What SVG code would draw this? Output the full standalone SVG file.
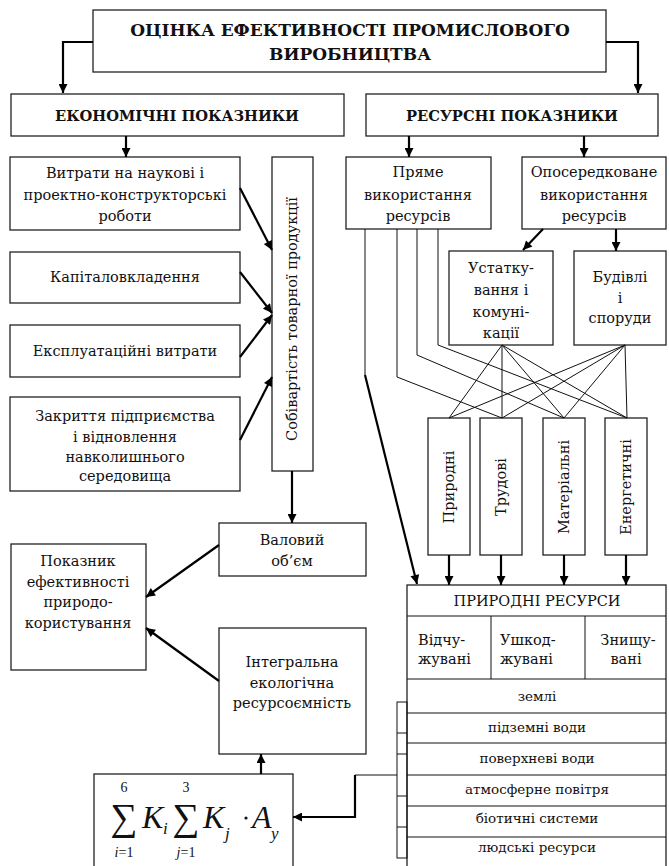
<svg xmlns="http://www.w3.org/2000/svg" width="669" height="866" viewBox="0 0 669 866">
<style>
.box{fill:#fff;stroke:#222;stroke-width:1.3}
.t{font-family:'DejaVu Serif','Liberation Serif',serif;font-size:14.5px;fill:#111;text-anchor:middle}
.b{font-weight:bold;font-size:14.7px}
.h{font-weight:bold;font-size:17px}
.s{font-size:13.5px}
.st{text-anchor:start}
.f{font-family:'Liberation Serif',serif}
.n{font-size:14px}
.sig{font-size:38px}
.big{font-size:32px;font-style:italic}
.sub{font-size:17px;font-style:italic}
.thick{fill:none;stroke:#000;stroke-width:2.2}
.thin{fill:none;stroke:#111;stroke-width:1}
.it{font-style:italic}
</style>
<defs>
<marker id="ah" viewBox="0 0 10 10" refX="10" refY="5" markerWidth="10" markerHeight="9" markerUnits="userSpaceOnUse" orient="auto"><path d="M0,0 L10,5 L0,10 z" fill="#000"/></marker>
</defs>
<rect width="669" height="866" fill="#fff"/>

<g id="top"><rect class="box" x="93" y="10" width="513" height="62"/>
<text class="t h" x="350" y="36">ОЦІНКА ЕФЕКТИВНОСТІ ПРОМИСЛОВОГО</text>
<text class="t h" x="350" y="60">ВИРОБНИЦТВА</text></g>

<g id="econ"><rect class="box" x="11" y="94" width="333" height="42"/>
<text class="t b" x="177" y="121">ЕКОНОМІЧНІ ПОКАЗНИКИ</text></g>
<g id="res"><rect class="box" x="366" y="94" width="292" height="42"/>
<text class="t b" x="512" y="121">РЕСУРСНІ ПОКАЗНИКИ</text></g>

<g id="vytraty"><rect class="box" x="10" y="157" width="230" height="73"/>
<text class="t" x="125" y="178">Витрати на наукові і</text>
<text class="t" x="125" y="200">проектно-конструкторські</text>
<text class="t" x="125" y="221">роботи</text></g>
<g id="kapital"><rect class="box" x="10" y="252" width="230" height="51"/>
<text class="t" x="125" y="282">Капіталовкладення</text></g>
<g id="ekspl"><rect class="box" x="10" y="325" width="230" height="52"/>
<text class="t" x="125" y="356">Експлуатаційні витрати</text></g>
<g id="zakryttia"><rect class="box" x="10" y="397" width="230" height="94"/>
<text class="t" x="125" y="421">Закриття підприємства</text>
<text class="t" x="125" y="442">і відновлення</text>
<text class="t" x="125" y="462">навколишнього</text>
<text class="t" x="125" y="481">середовища</text></g>
<g id="sobivartist"><rect class="box" x="272" y="157" width="41" height="314"/>
<text class="t" transform="translate(297,319) rotate(-90)">Собівартість товарної продукції</text></g>

<g id="valovyi"><rect class="box" x="219" y="523" width="147" height="53"/>
<text class="t" x="292" y="545">Валовий</text>
<text class="t" x="292" y="566">об’єм</text></g>
<g id="pokaznyk"><rect class="box" x="11" y="544" width="135" height="126"/>
<text class="t" x="78" y="566">Показник</text>
<text class="t" x="78" y="587">ефективності</text>
<text class="t" x="78" y="607">природо-</text>
<text class="t" x="78" y="628">користування</text></g>
<g id="intehralna"><rect class="box" x="219" y="628" width="147" height="126"/>
<text class="t" x="292" y="667">Інтегральна</text>
<text class="t" x="292" y="688">екологічна</text>
<text class="t" x="292" y="708">ресурсоємність</text></g>
<g id="formula"><rect class="box" x="94" y="774" width="199" height="100"/>
<text class="t f sig" x="124" y="830">∑</text>
<text class="t f n" x="124" y="792">6</text>
<text class="t f n" x="124" y="857"><tspan class="it">i</tspan>=1</text>
<text class="t f big st" x="142" y="828">K</text>
<text class="t f sub st" x="163" y="834">i</text>
<text class="t f sig" x="186" y="830">∑</text>
<text class="t f n" x="186" y="792">3</text>
<text class="t f n" x="186" y="857"><tspan class="it">j</tspan>=1</text>
<text class="t f big st" x="203" y="828">K</text>
<text class="t f sub st" x="225" y="839">j</text>
<circle cx="246" cy="818" r="1.6" fill="#111"/>
<text class="t f big st" x="252" y="828">A</text>
<text class="t f sub st" x="271" y="839">y</text></g>

<g id="priame"><rect class="box" x="346" y="157" width="145" height="72"/>
<text class="t" x="418" y="177">Пряме</text>
<text class="t" x="418" y="200">використання</text>
<text class="t" x="418" y="221">ресурсів</text></g>
<g id="oposeredkovane"><rect class="box" x="522" y="157" width="144" height="72"/>
<text class="t" x="594" y="177">Опосередковане</text>
<text class="t" x="594" y="200">використання</text>
<text class="t" x="594" y="221">ресурсів</text></g>
<g id="ustatkuvannia"><rect class="box" x="449" y="251" width="104" height="94"/>
<text class="t" x="501" y="273">Устатку-</text>
<text class="t" x="501" y="295">вання  і</text>
<text class="t" x="501" y="317">комуні-</text>
<text class="t" x="501" y="338">кації</text></g>
<g id="budivli"><rect class="box" x="574" y="251" width="92" height="94"/>
<text class="t" x="620" y="282">Будівлі</text>
<text class="t" x="620" y="303">і</text>
<text class="t" x="620" y="323">споруди</text></g>

<g id="pryrodni"><rect class="box" x="428" y="418" width="42" height="137"/>
<text class="t" transform="translate(454,487) rotate(-90)">Природні</text></g>
<g id="trudovi"><rect class="box" x="480" y="418" width="42" height="137"/>
<text class="t" transform="translate(506,487) rotate(-90)">Трудові</text></g>
<g id="materialni"><rect class="box" x="543" y="418" width="42" height="137"/>
<text class="t" transform="translate(569,487) rotate(-90)">Матеріальні</text></g>
<g id="enerhetychni"><rect class="box" x="605" y="418" width="42" height="137"/>
<text class="t" transform="translate(631,487) rotate(-90)">Енергетичні</text></g>

<g id="table">
<rect class="box" x="407" y="585" width="259" height="282"/>
<line class="thin" x1="407" y1="616" x2="666" y2="616"/>
<line class="thin" x1="407" y1="679" x2="666" y2="679"/>
<line class="thin" x1="491" y1="616" x2="491" y2="679"/>
<line class="thin" x1="585" y1="616" x2="585" y2="679"/>
<line class="thin" x1="407" y1="713" x2="666" y2="713"/>
<line class="thin" x1="407" y1="743" x2="666" y2="743"/>
<line class="thin" x1="407" y1="775" x2="666" y2="775"/>
<line class="thin" x1="407" y1="806" x2="666" y2="806"/>
<line class="thin" x1="407" y1="837" x2="666" y2="837"/>
<text class="t" x="537" y="606">ПРИРОДНІ РЕСУРСИ</text>
<text class="t st" x="418" y="645">Відчу-</text>
<text class="t st" x="418" y="664">жувані</text>
<text class="t st" x="500" y="645">Ушкод-</text>
<text class="t st" x="500" y="664">жувані</text>
<text class="t" x="628" y="645">Знищу-</text>
<text class="t" x="626" y="664">вані</text>
<text class="t s" x="537" y="701">землі</text>
<text class="t s" x="537" y="732">підземні води</text>
<text class="t s" x="537" y="763">поверхневі води</text>
<text class="t s" x="537" y="794">атмосферне повітря</text>
<text class="t s" x="537" y="823">біотичні системи</text>
<text class="t s" x="537" y="852">людські ресурси</text>
</g>
<g id="bracket">
<rect class="thin" x="397" y="702" width="10" height="156"/>
<line class="thin" x1="397" y1="733" x2="407" y2="733"/>
<line class="thin" x1="397" y1="754" x2="407" y2="754"/>
<line class="thin" x1="397" y1="796" x2="407" y2="796"/>
<line class="thin" x1="397" y1="827" x2="407" y2="827"/>
</g>

<g id="connectors">
<path class="thick" d="M93,42 H63 V93" marker-end="url(#ah)"/>
<path class="thick" d="M606,42 H638 V93" marker-end="url(#ah)"/>
<path class="thick" d="M126,136 V157" marker-end="url(#ah)"/>
<path class="thick" d="M409,136 V157" marker-end="url(#ah)"/>
<path class="thick" d="M584,136 V157" marker-end="url(#ah)"/>
<path class="thick" d="M240,188 L272,250" marker-end="url(#ah)"/>
<path class="thick" d="M240,272 L272,313" marker-end="url(#ah)"/>
<path class="thick" d="M240,357 L272,315" marker-end="url(#ah)"/>
<path class="thick" d="M240,440 L272,377" marker-end="url(#ah)"/>
<path class="thick" d="M292,471 V523" marker-end="url(#ah)"/>
<path class="thick" d="M219,545 L146,597" marker-end="url(#ah)"/>
<path class="thick" d="M219,681 L146,628" marker-end="url(#ah)"/>
<path class="thick" d="M261,774 V754" marker-end="url(#ah)"/>
<path class="thick" d="M543,229 L523,250" marker-end="url(#ah)"/>
<path class="thick" d="M616,229 V251" marker-end="url(#ah)"/>
<path class="thin" d="M365,229 V375"/>
<path class="thick" d="M365,375 L417,584" marker-end="url(#ah)"/>
<path class="thin" d="M397,229 V377 L502,418"/>
<path class="thin" d="M417,229 V355 L564,418"/>
<path class="thin" d="M438,229 V345 L627,418"/>
<path class="thin" d="M449,418 L502,345 L502,418 M502,345 L564,418 M502,345 L627,418"/>
<path class="thin" d="M449,418 L625,345 L502,418 M625,345 L564,418 M625,345 L627,418"/>
<path class="thick" d="M449,555 V585" marker-end="url(#ah)"/>
<path class="thick" d="M501,555 V585" marker-end="url(#ah)"/>
<path class="thick" d="M564,555 V585" marker-end="url(#ah)"/>
<path class="thick" d="M626,555 V585" marker-end="url(#ah)"/>
<path class="thin" d="M397,775 H355"/>
<path class="thick" d="M355,775 V817 H293" marker-end="url(#ah)"/>
</g>
</svg>
